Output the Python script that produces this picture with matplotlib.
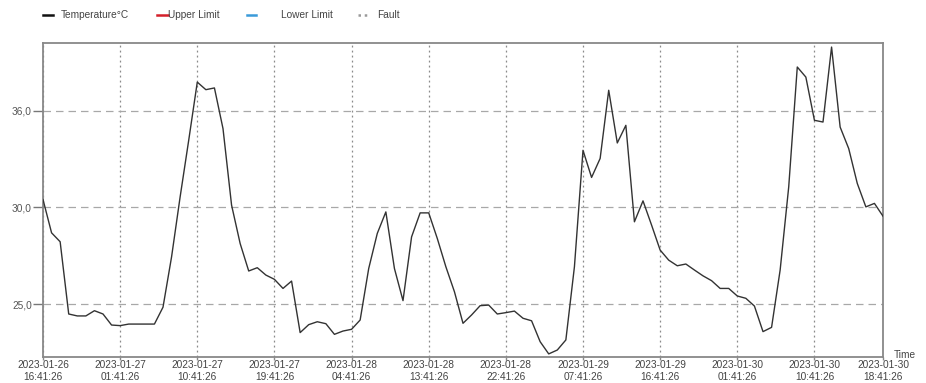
import matplotlib
matplotlib.use("Agg")
import matplotlib.pyplot as plt
import matplotlib.dates as mdates
from matplotlib.lines import Line2D
from matplotlib.ticker import FixedLocator, FixedFormatter
import pandas as pd

plt.rcParams["font.family"] = ["Liberation Sans", "DejaVu Sans"]

# hourly temperature readings
start_time = "2023-01-26 16:41:26"
temperature = [
    30.41, 28.69, 28.23, 24.50, 24.40, 24.40, 24.67, 24.50, 23.93, 23.90,
    23.98, 23.98, 23.98, 23.98, 24.85, 27.45, 30.55, 33.47, 36.47, 36.08,
    36.17, 34.07, 30.12, 28.14, 26.72, 26.89, 26.51, 26.29, 25.82, 26.20,
    23.54, 23.95, 24.10, 24.00, 23.45, 23.62, 23.71, 24.19, 26.85, 28.66,
    29.77, 26.85, 25.19, 28.48, 29.72, 29.72, 28.40, 26.94, 25.65, 24.02,
    24.45, 24.93, 24.96, 24.50, 24.57, 24.65, 24.28, 24.15, 23.07, 22.44,
    22.64, 23.16, 26.94, 32.95, 31.55, 32.53, 36.05, 33.33, 34.24, 29.26,
    30.34, 29.09, 27.80, 27.28, 26.99, 27.08, 26.77, 26.47, 26.22, 25.82,
    25.82, 25.43, 25.31, 24.91, 23.59, 23.81, 26.77, 31.06, 37.25, 36.73,
    34.50, 34.41, 38.28, 34.15, 33.04, 31.24, 30.03, 30.21, 29.55,
]
y_tick_values = [25, 30, 35]
y_tick_labels = ["25,0", "30,0", "36,0"]
legend_labels = ["Temperature°C", "Upper Limit", "Lower Limit", "Fault"]

times = pd.date_range(start_time, periods=len(temperature), freq="h")

W, H = 926, 383
FS = 7.3
fig = plt.figure(figsize=(W / 100, H / 100), dpi=100)
ax = fig.add_axes([43 / W, 26 / H, 840 / W, 314 / H])

ax.plot(times, temperature, color="#333333", lw=1.0, zorder=3)

ax.set_xlim(times[0], times[-1])
ax.set_ylim(22.28, 38.49)

# x ticks every 9 hours plus the final reading
tick_times = list(times[::9]) + [times[-1]]
ax.xaxis.set_major_locator(FixedLocator(mdates.date2num(tick_times)))
ax.xaxis.set_major_formatter(
    FixedFormatter([t.strftime("%Y-%m-%d\n%H:%M:%S") for t in tick_times]))
ax.yaxis.set_major_locator(FixedLocator(y_tick_values))
ax.yaxis.set_major_formatter(FixedFormatter(y_tick_labels))

ax.tick_params(axis="x", length=2.5, width=1, color="#888888", pad=0,
               labelsize=FS, labelcolor="#444444")
ax.tick_params(axis="y", length=7, width=1, color="#777777", pad=1,
               labelsize=FS, labelcolor="#555555")
for lbl in ax.get_xticklabels():
    lbl.set_linespacing(1.15)

ax.grid(axis="x", color="#8a8a8a", lw=0.9, linestyle=(0, (1.5, 2.5)))
ax.grid(axis="y", color="#a8a8a8", lw=0.9, linestyle=(0, (6, 4)))

for s in ax.spines.values():
    s.set_color("#888888")
    s.set_linewidth(1.3)

fig.text(905 / W, 1 - 355 / H, "Time", fontsize=FS, color="#444444",
         ha="center", va="center")

# legend row drawn along the top edge
legend_handles = [
    ((43, 53), "#111111", "-", 61, legend_labels[0]),
    ((157, 168), "#d4202a", "-", 168, legend_labels[1]),
    ((247, 256), "#3a9ad9", "-", 281, legend_labels[2]),
    ((358, 368), "#9a9a9a", (0, (1, 1.5)), 377, legend_labels[3]),
]
ly = 1 - 15 / H
for (x0, x1), col, ls, tx, label in legend_handles:
    fig.add_artist(Line2D([x0 / W, x1 / W], [ly, ly], transform=fig.transFigure,
                          color=col, lw=1.8, linestyle=ls))
    fig.text(tx / W, ly, label, fontsize=FS, color="#444444",
             ha="left", va="center")

fig.savefig("out.png", dpi=100)
